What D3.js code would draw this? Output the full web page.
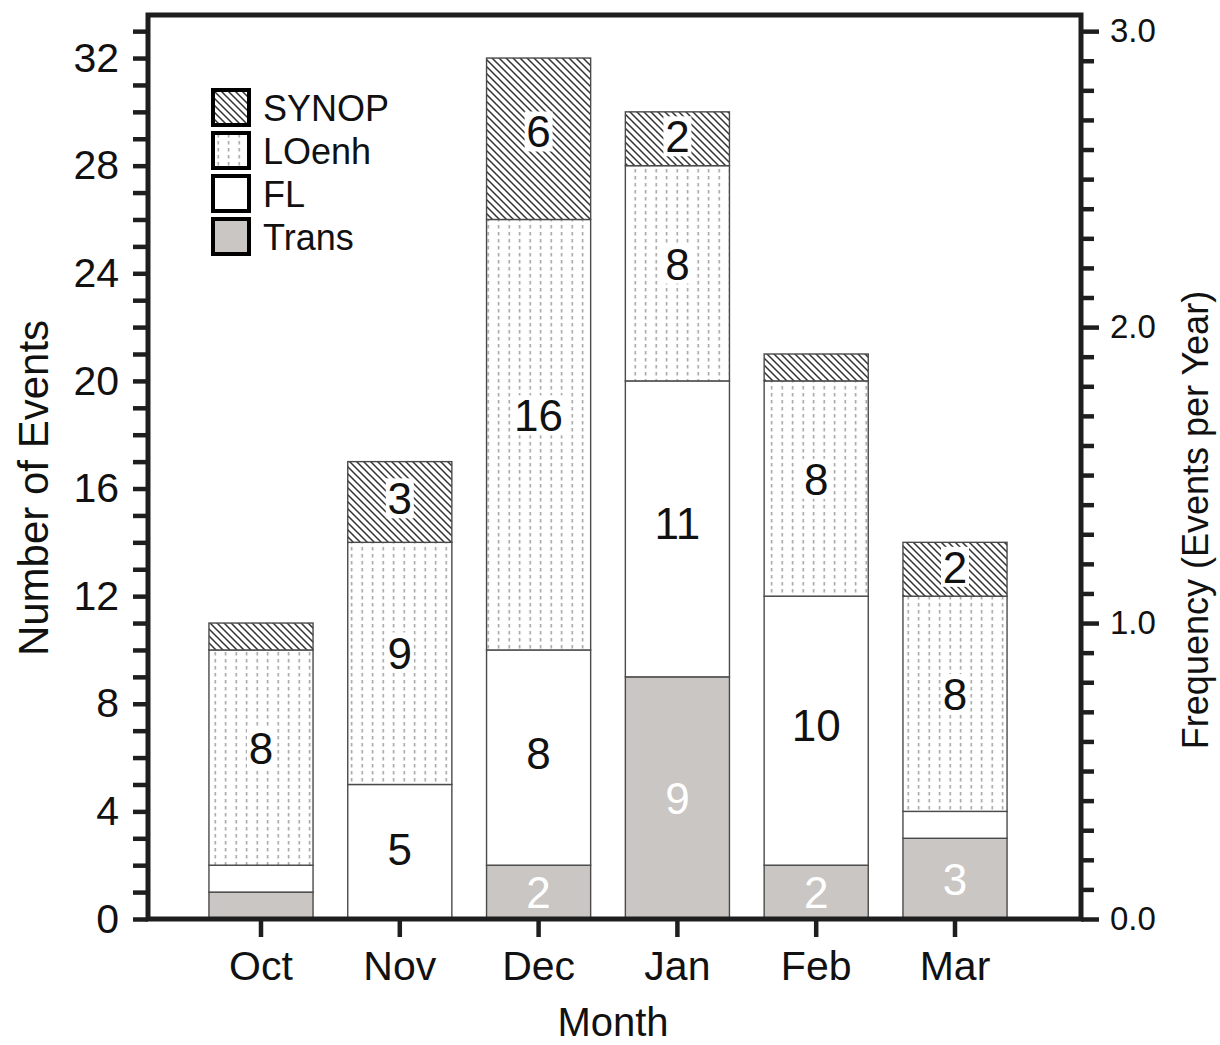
<!DOCTYPE html>
<html>
<head>
<meta charset="utf-8">
<script src="https://cdn.jsdelivr.net/npm/d3@7"></script>
<style>
  html, body { margin: 0; padding: 0; background: #fff; }
  svg { display: block; font-family: "Liberation Sans", Arial, sans-serif; }
</style>
</head>
<body>
<svg id="chart" width="1220" height="1045"></svg>
<script>
// Monthly event counts by type, stacked bottom-to-top: Trans, FL, LOenh, SYNOP
const months = ["Oct", "Nov", "Dec", "Jan", "Feb", "Mar"];
const trans  = [1, 0, 2, 9, 2, 3];
const fl     = [1, 5, 8, 11, 10, 1];
const loenh  = [8, 9, 16, 8, 8, 8];
const synop  = [1, 3, 6, 2, 1, 2];
const seriesKeys = ["Trans", "FL", "LOenh", "SYNOP"];
const legendOrder = ["SYNOP", "LOenh", "FL", "Trans"];
const leftTicks = [0, 4, 8, 12, 16, 20, 24, 28, 32];
const rightTicks = [0.0, 1.0, 2.0, 3.0];
const nYears = 11; // events per year = events / record length

const rows = months.map((m, i) => ({
  month: m, Trans: trans[i], FL: fl[i], LOenh: loenh[i], SYNOP: synop[i]
}));

const svg = d3.select("#chart");
const plot = { left: 148, right: 1081, top: 15, bottom: 919 };
const yMax = 33.6;

const x = d3.scaleBand().domain(months)
  .range([191.6, 1024.4]).paddingInner(0.25).paddingOuter(0.125);
const y = d3.scaleLinear().domain([0, yMax]).range([plot.bottom, plot.top]);
const yR = d3.scaleLinear().domain([0, yMax / nYears]).range([plot.bottom, plot.top]);

// ---- fill patterns ----
const defs = svg.append("defs");
const hatch = defs.append("pattern").attr("id", "hatch")
  .attr("patternUnits", "userSpaceOnUse").attr("width", 7).attr("height", 7);
hatch.append("rect").attr("width", 7).attr("height", 7).attr("fill", "#fff");
hatch.append("path").attr("d", "M-1,-1 L8,8 M-1,6 L1,8 M6,-1 L8,1")
  .attr("stroke", "#333").attr("stroke-width", 1.5);

const dots = defs.append("pattern").attr("id", "dots")
  .attr("patternUnits", "userSpaceOnUse").attr("width", 10.5).attr("height", 7);
dots.append("rect").attr("width", 10.5).attr("height", 7).attr("fill", "#fff");
dots.append("rect").attr("x", 4.5).attr("y", 1).attr("width", 1.4).attr("height", 3.5).attr("fill", "#999");

const fills = { Trans: "#c9c6c3", FL: "#ffffff", LOenh: "url(#dots)", SYNOP: "url(#hatch)" };
// where in each segment its count sits (fraction of the segment height from its base)
const labelLift = { Trans: 0.5, FL: 0.52, LOenh: 0.545, SYNOP: 0.545 };

// ---- stacked bars ----
const stacked = d3.stack().keys(seriesKeys)(rows);
const segs = [];
stacked.forEach(layer => {
  layer.forEach(d => {
    segs.push({ key: layer.key, month: d.data.month, y0: d[0], y1: d[1], v: d[1] - d[0] });
  });
});

const bars = svg.append("g");
bars.selectAll("rect").data(segs.filter(s => s.v > 0)).join("rect")
  .attr("x", d => x(d.month))
  .attr("width", x.bandwidth())
  .attr("y", d => y(d.y1))
  .attr("height", d => y(d.y0) - y(d.y1))
  .attr("fill", d => fills[d.key])
  .attr("stroke", "#4a4a4a")
  .attr("stroke-width", 1.4);

// ---- segment value labels (for counts of 2 or more) ----
const labelG = svg.append("g").attr("font-size", 44).attr("text-anchor", "middle");
const labeled = segs.filter(s => s.v >= 2);
labeled.forEach(s => {
  const cx = x(s.month) + x.bandwidth() / 2;
  const cy = y(s.y0 + labelLift[s.key] * s.v);
  if (s.key === "SYNOP" || s.key === "LOenh") {
    const w = String(s.v).length * 24 + 4;
    labelG.append("rect").attr("x", cx - w / 2).attr("y", cy - 20)
      .attr("width", w).attr("height", 40).attr("fill", "#fff");
  }
  labelG.append("text").attr("x", cx).attr("y", cy + 16)
    .attr("fill", s.key === "Trans" ? "#ffffff" : "#111")
    .text(s.v);
});

// ---- axes ----
const axisColor = "#1e1e1e";
const leftAxis = d3.axisLeft(y).tickValues(d3.range(0, 34, 1)).tickSize(15).tickPadding(14)
  .tickFormat(d => leftTicks.includes(d) ? d : "");
const gL = svg.append("g").attr("transform", `translate(${plot.left},0)`).call(leftAxis);

const rightAxis = d3.axisRight(yR).tickValues(d3.range(0, 31).map(i => i / 10)).tickSize(13).tickPadding(16)
  .tickFormat(d => rightTicks.some(t => Math.abs(t - d) < 1e-9) ? d3.format(".1f")(d) : "");
const gR = svg.append("g").attr("transform", `translate(${plot.right},0)`).call(rightAxis);

const bottomAxis = d3.axisBottom(x).tickSize(18).tickPadding(14);
const gB = svg.append("g").attr("transform", `translate(0,${plot.bottom})`).call(bottomAxis);

[gL, gR, gB].forEach(g => {
  g.select(".domain").remove();
  g.selectAll(".tick line").attr("stroke", axisColor).attr("stroke-width", 4.5);
  g.selectAll(".tick text").attr("fill", "#111").attr("font-size", 41)
    .attr("font-family", "Liberation Sans, Arial, sans-serif");
});
gR.selectAll(".tick line").attr("x2", d => Math.abs(d - Math.round(d)) < 1e-9 ? 18 : 13);
gR.selectAll(".tick text").attr("font-size", 33);

// frame around plot
svg.append("rect")
  .attr("x", plot.left).attr("y", plot.top)
  .attr("width", plot.right - plot.left).attr("height", plot.bottom - plot.top)
  .attr("fill", "none").attr("stroke", axisColor).attr("stroke-width", 5);

// ---- axis titles ----
svg.append("text").attr("x", 613).attr("y", 1036).attr("text-anchor", "middle")
  .attr("font-size", 40).attr("fill", "#111").text("Month");
svg.append("text").attr("transform", `translate(48,${488}) rotate(-90)`)
  .attr("text-anchor", "middle").attr("font-size", 42).attr("fill", "#111").text("Number of Events");
svg.append("text").attr("transform", `translate(1208,${520}) rotate(-90)`)
  .attr("text-anchor", "middle").attr("font-size", 36).attr("fill", "#111").text("Frequency (Events per Year)");

// ---- legend ----
const legend = svg.append("g").attr("transform", "translate(213,90)");
const li = legend.selectAll("g").data(legendOrder).join("g")
  .attr("transform", (d, i) => `translate(0,${i * 43})`);
li.append("rect").attr("width", 36).attr("height", 35)
  .attr("fill", d => fills[d]).attr("stroke", "#000").attr("stroke-width", 4);
li.append("text").attr("x", 50).attr("y", 31).attr("font-size", 36).attr("fill", "#111").text(d => d);
</script>
</body>
</html>
